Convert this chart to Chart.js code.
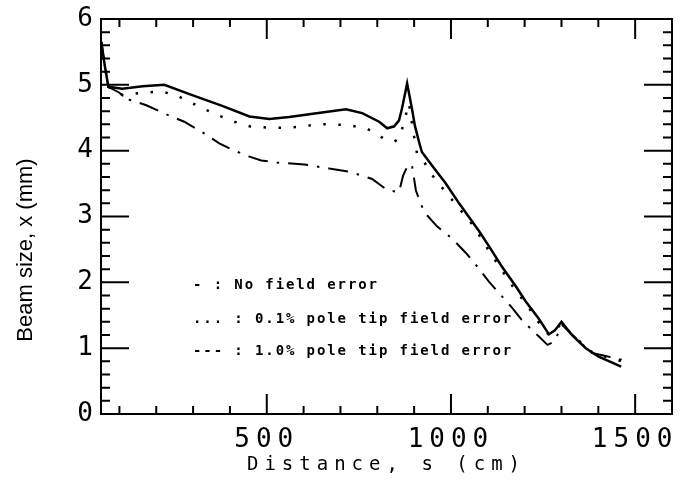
<!DOCTYPE html>
<html>
<head>
<meta charset="utf-8">
<script src="https://cdn.jsdelivr.net/npm/chart.js@4"></script>
<style>
  html, body { margin: 0; padding: 0; background: #fff; }
</style>
</head>
<body>
<canvas id="beam" width="690" height="484"></canvas>
<script>
// beam size vs distance
const noErrX = [51, 60, 70, 108, 163, 222, 290, 379, 453, 507, 561, 650, 715, 759, 805, 827, 846, 859, 867, 881, 894, 902, 913, 921, 949, 986, 1022, 1058, 1076, 1103, 1138, 1176, 1203, 1238, 1266, 1282, 1300, 1328, 1366, 1401, 1430, 1462];
const noErrY = [5.65, 5.3, 4.97, 4.94, 4.98, 5.0, 4.86, 4.68, 4.52, 4.48, 4.51, 4.58, 4.63, 4.57, 4.44, 4.34, 4.37, 4.46, 4.64, 5.02, 4.64, 4.38, 4.14, 3.98, 3.77, 3.5, 3.2, 2.92, 2.78, 2.55, 2.24, 1.94, 1.71, 1.45, 1.21, 1.27, 1.4, 1.2, 1.0, 0.87, 0.8, 0.72];

const err01X = [51, 60, 70, 110, 160, 214, 255, 295, 331, 371, 412, 453, 507, 542, 588, 637, 683, 729, 770, 810, 827, 846, 859, 866, 886, 896, 908, 927, 946, 967, 995, 1016, 1049, 1076, 1103, 1138, 1170, 1203, 1247, 1266, 1280, 1300, 1330, 1380, 1420, 1465];
const err01Y = [5.65, 5.3, 4.97, 4.84, 4.88, 4.9, 4.84, 4.73, 4.63, 4.53, 4.44, 4.37, 4.35, 4.35, 4.36, 4.4, 4.4, 4.38, 4.34, 4.21, 4.15, 4.14, 4.18, 4.3, 4.72, 4.34, 3.95, 3.83, 3.65, 3.5, 3.31, 3.16, 2.95, 2.72, 2.48, 2.18, 1.92, 1.68, 1.32, 1.2, 1.25, 1.38, 1.2, 0.95, 0.87, 0.8];

const err10X = [51, 60, 70, 100, 119, 173, 236, 276, 331, 371, 412, 453, 485, 528, 602, 669, 724, 786, 827, 859, 870, 885, 895, 905, 927, 962, 1000, 1040, 1067, 1103, 1130, 1165, 1192, 1238, 1262, 1280, 1302, 1330, 1380, 1420, 1468];
const err10Y = [5.65, 5.3, 4.97, 4.88, 4.79, 4.69, 4.53, 4.44, 4.26, 4.11, 4.0, 3.91, 3.85, 3.82, 3.79, 3.73, 3.68, 3.57, 3.4, 3.37, 3.62, 3.8, 3.75, 3.39, 3.07, 2.85, 2.68, 2.45, 2.27, 2.01, 1.84, 1.62, 1.43, 1.18, 1.05, 1.1, 1.35, 1.2, 0.93, 0.88, 0.82];

const xTickLabels = [500, 1000, 1500];
const yTickLabels = [0, 1, 2, 3, 4, 5, 6];
const legendLines = [
    '- : No field error',
    '... : 0.1% pole tip field error',
    '--- : 1.0% pole tip field error'
];
const xTitle = 'Distance, s (cm)';
const yTitle = 'Beam size, x (mm)';

const toPoints = (xs, ys) => xs.map((x, i) => ({ x, y: ys[i] }));

// frame, inward ticks, in-plot legend and the y title
const framePlugin = {
    id: 'frame',
    beforeDraw(chart) {
        chart.ctx.letterSpacing = '6px';
    },
    afterDraw(chart) {
        const { ctx, chartArea: a, scales: { x, y } } = chart;
        ctx.save();
        ctx.letterSpacing = '0px';
        ctx.strokeStyle = '#000';
        ctx.lineWidth = 2;
        ctx.strokeRect(a.left, a.top, a.right - a.left, a.bottom - a.top);

        ctx.beginPath();
        for (let v = 100; v < x.max; v += 100) {
            const px = x.getPixelForValue(v);
            const len = v % 500 === 0 ? 20 : 8;
            ctx.moveTo(px, a.bottom); ctx.lineTo(px, a.bottom - len);
            ctx.moveTo(px, a.top); ctx.lineTo(px, a.top + len);
        }
        for (let i = 1; i < 30; i++) {
            const py = y.getPixelForValue(i / 5);
            const len = i % 5 === 0 ? 28 : 9;
            ctx.moveTo(a.left, py); ctx.lineTo(a.left + len, py);
            ctx.moveTo(a.right, py); ctx.lineTo(a.right - len, py);
        }
        ctx.stroke();

        ctx.fillStyle = '#000';
        ctx.font = 'bold 14px "DejaVu Sans Mono"';
        ctx.letterSpacing = '1.9px';
        ctx.textAlign = 'left';
        ctx.textBaseline = 'middle';
        const legendY = [285, 319, 351];
        legendLines.forEach((t, i) => ctx.fillText(t, 193, legendY[i]));

        ctx.letterSpacing = '0px';
        ctx.translate(26, 250);
        ctx.rotate(-Math.PI / 2);
        ctx.font = '22px "Liberation Sans"';
        ctx.textAlign = 'center';
        ctx.fillText(yTitle, 0, 0);
        ctx.restore();
    }
};

const tickFont = { family: 'DejaVu Sans Mono', size: 26 };

new Chart(document.getElementById('beam').getContext('2d'), {
    type: 'line',
    data: {
        datasets: [{
            label: 'No field error',
            data: toPoints(noErrX, noErrY),
            borderColor: '#000',
            borderWidth: 2.5
        }, {
            label: '0.1% pole tip field error',
            data: toPoints(err01X, err01Y),
            borderColor: '#000',
            borderWidth: 2.5,
            borderDash: [2.5, 12.5]
        }, {
            label: '1.0% pole tip field error',
            data: toPoints(err10X, err10Y),
            borderColor: '#000',
            borderWidth: 2,
            borderDash: [20, 9, 2.5, 9]
        }]
    },
    options: {
        responsive: false,
        animation: false,
        events: [],
        layout: { padding: { left: 0, right: 18, top: 19, bottom: 0 } },
        elements: { point: { radius: 0 }, line: { tension: 0 } },
        plugins: { legend: { display: false }, tooltip: { enabled: false } },
        scales: {
            x: {
                type: 'linear',
                min: 50,
                max: 1600,
                grid: { display: false, drawTicks: false },
                border: { display: false },
                afterBuildTicks: s => { s.ticks = xTickLabels.map(value => ({ value })); },
                afterFit: s => { s.height = 70; },
                ticks: { font: tickFont, color: '#000', padding: 11, maxRotation: 0, autoSkip: false, callback: v => String(v) },
                title: {
                    display: true,
                    text: xTitle,
                    color: '#000',
                    font: { family: 'DejaVu Sans Mono', size: 19 },
                    padding: { top: 0, bottom: 8 }
                }
            },
            y: {
                min: 0,
                max: 6,
                grid: { display: false, drawTicks: false },
                border: { display: false },
                afterBuildTicks: s => { s.ticks = yTickLabels.map(value => ({ value })); },
                afterFit: s => { s.width = 101; },
                ticks: { font: tickFont, color: '#000', padding: 2, callback: v => String(v) }
            }
        }
    },
    plugins: [framePlugin]
});
</script>
</body>
</html>
